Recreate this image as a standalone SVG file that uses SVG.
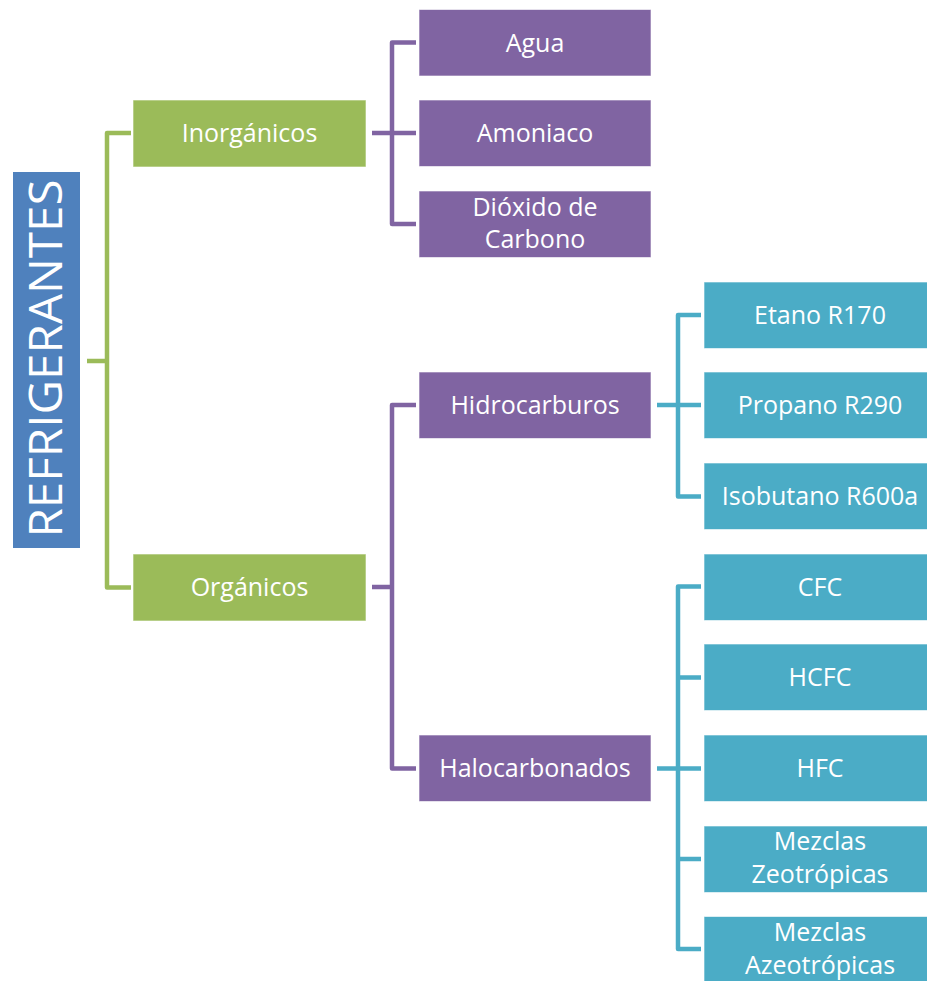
<svg xmlns="http://www.w3.org/2000/svg" width="927" height="981" viewBox="0 0 927 981">
<style>
.t{font-family:"Open Sans","Liberation Sans",sans-serif;font-size:25px;fill:#fff;text-anchor:middle}
.g{fill:#9BBB59}
.p{fill:#8064A2}
.c{fill:#4BACC6}
.box{stroke:#fff;stroke-opacity:0.6;stroke-width:1}
.lg{stroke:#9BBB59}
.lp{stroke:#8064A2}
.lc{stroke:#4BACC6}
.ln{fill:none;stroke-width:4.5;stroke-linejoin:round}
</style>
<rect width="927" height="981" fill="#fff"/>
<g id="connectors">
<path class="ln lg" d="M131,133 H107 V587.5 H131 M87,361 H107"/>
<path class="ln lp" d="M416,42.5 H392 V224 H416 M372,133 H416"/>
<path class="ln lp" d="M416,405 H392 V768.5 H416 M372,587 H392"/>
<path class="ln lc" d="M701,315 H678 V496.5 H701 M657,405 H701"/>
<path class="ln lc" d="M701,586.5 H678 V949 H701 M678,677.5 H701 M657,768.5 H701 M678,859 H701"/>
</g>
<g id="n-refrigerantes">
<rect x="13" y="172" width="67" height="376" fill="#4F81BD"/>
<text transform="translate(62,358.5) rotate(-90)" textLength="358" lengthAdjust="spacingAndGlyphs" style="font-family:'Open Sans','Liberation Sans',sans-serif;font-size:46px;font-weight:400;fill:#fff;text-anchor:middle">REFRIGERANTES</text>
</g>
<g id="n-inorganicos"><rect class="g box" x="133" y="100" width="233" height="67"/><text class="t" x="249.5" y="142">Inorgánicos</text></g>
<g id="n-organicos"><rect class="g box" x="133" y="554" width="233" height="67"/><text class="t" x="249.5" y="596">Orgánicos</text></g>
<g id="n-agua"><rect class="p box" x="419" y="9.5" width="232" height="66.5"/><text class="t" x="535" y="51.5">Agua</text></g>
<g id="n-amoniaco"><rect class="p box" x="419" y="100" width="232" height="66.5"/><text class="t" x="535" y="142">Amoniaco</text></g>
<g id="n-dioxido"><rect class="p box" x="419" y="191" width="232" height="66.5"/><text class="t" x="535" y="215.5">Dióxido de</text><text class="t" x="535" y="248">Carbono</text></g>
<g id="n-hidrocarburos"><rect class="p box" x="419" y="372" width="232" height="66.5"/><text class="t" x="535" y="414">Hidrocarburos</text></g>
<g id="n-halocarbonados"><rect class="p box" x="419" y="735" width="232" height="66.5"/><text class="t" x="535" y="777">Halocarbonados</text></g>
<g id="n-etano"><rect class="c box" x="704" y="282" width="232" height="66.5"/><text class="t" x="820" y="324">Etano R170</text></g>
<g id="n-propano"><rect class="c box" x="704" y="372" width="232" height="66.5"/><text class="t" x="820" y="414">Propano R290</text></g>
<g id="n-isobutano"><rect class="c box" x="704" y="463" width="232" height="66.5"/><text class="t" x="820" y="505">Isobutano R600a</text></g>
<g id="n-cfc"><rect class="c box" x="704" y="554" width="232" height="66.5"/><text class="t" x="820" y="596">CFC</text></g>
<g id="n-hcfc"><rect class="c box" x="704" y="644" width="232" height="66.5"/><text class="t" x="820" y="686">HCFC</text></g>
<g id="n-hfc"><rect class="c box" x="704" y="735" width="232" height="66.5"/><text class="t" x="820" y="777">HFC</text></g>
<g id="n-zeo"><rect class="c box" x="704" y="826" width="232" height="66.5"/><text class="t" x="820" y="850">Mezclas</text><text class="t" x="820" y="883">Zeotrópicas</text></g>
<g id="n-azeo"><rect class="c box" x="704" y="916.5" width="232" height="66.5"/><text class="t" x="820" y="941">Mezclas</text><text class="t" x="820" y="974">Azeotrópicas</text></g>
</svg>
